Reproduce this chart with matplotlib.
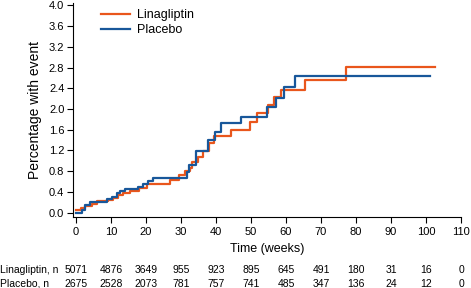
"""
Kaplan-Meier style cumulative incidence: Linagliptin vs Placebo
"""

import matplotlib
matplotlib.use('Agg')
import matplotlib.pyplot as plt
import matplotlib.transforms as mtransforms

plt.rcParams['font.family'] = ['Liberation Sans', 'DejaVu Sans']

# Step curves (week, cumulative % with event)
lina_weeks = [0, 1.5, 2.7, 4.5, 6.0, 9.0, 10.5, 12.0, 13.5, 15.5, 18.0, 20.2,
              26.9, 29.5, 31.1, 32.6, 33.2, 34.9, 36.4, 38.1, 39.5, 44.2,
              49.7, 51.8, 54.9, 56.6, 58.6, 65.4, 77.1, 102.5]
lina_pct = [0.05, 0.08, 0.13, 0.17, 0.22, 0.24, 0.28, 0.34, 0.38, 0.42, 0.48, 0.55,
            0.63, 0.73, 0.80, 0.86, 0.97, 1.08, 1.18, 1.34, 1.47, 1.60,
            1.74, 1.92, 2.08, 2.24, 2.37, 2.56, 2.82, 2.82]

plac_weeks = [0, 1.6, 2.6, 4.0, 8.8, 10.2, 11.6, 12.6, 14.0, 17.8, 19.2, 20.7,
              21.9, 31.6, 32.3, 34.2, 37.8, 39.7, 41.3, 47.0, 54.6, 57.0,
              59.5, 62.5, 101.0]
plac_pct = [0.0, 0.05, 0.15, 0.21, 0.26, 0.31, 0.37, 0.41, 0.45, 0.50, 0.55, 0.60,
            0.66, 0.79, 0.92, 1.18, 1.40, 1.56, 1.73, 1.84, 2.03, 2.21,
            2.42, 2.64, 2.64]

# Numbers at risk
risk_weeks = [0, 10, 20, 30, 40, 50, 60, 70, 80, 90, 100, 110]
lina_at_risk = [5071, 4876, 3649, 955, 923, 895, 645, 491, 180, 31, 16, 0]
plac_at_risk = [2675, 2528, 2073, 781, 757, 741, 485, 347, 136, 24, 12, 0]

y_ticks = [0.0, 0.4, 0.8, 1.2, 1.6, 2.0, 2.4, 2.8, 3.2, 3.6, 4.0]

ORANGE = '#E9561C'
BLUE = '#18579A'

W, H = 471, 288
fig = plt.figure(figsize=(W / 100, H / 100), dpi=100)
ax = fig.add_axes([72.7 / W, 1 - 216.7 / H, (461 - 72.7) / W, (216.7 - 2.9) / H])

ax.step(lina_weeks, lina_pct, where='post', color=ORANGE, lw=1.6, label='Linagliptin')
ax.step(plac_weeks, plac_pct, where='post', color=BLUE, lw=1.6, label='Placebo')

ax.set_xlim(-0.95, 110)
ax.set_ylim(-0.08, 4.05)
ax.set_xticks(risk_weeks)
ax.set_yticks(y_ticks)
ax.set_yticklabels([f'{v:.1f}' for v in y_ticks])
ax.tick_params(labelsize=8, length=4, width=0.8, pad=2)
ax.tick_params(axis='x', pad=3.5)
for side in ('top', 'right'):
    ax.spines[side].set_visible(False)
for side in ('left', 'bottom'):
    ax.spines[side].set_linewidth(0.8)

ax.set_xlabel('Time (weeks)', fontsize=9, labelpad=4)
ax.set_ylabel('Percentage with event', fontsize=10, labelpad=5)

ax.legend(loc='upper left', bbox_to_anchor=(0.06, 0.995), frameon=False,
          fontsize=9, handlelength=2.3, handletextpad=0.6, labelspacing=0.25,
          borderaxespad=0)

# Numbers-at-risk table below the axis
trans = mtransforms.blended_transform_factory(ax.transData, fig.transFigure)
rows = [('Linagliptin, n', lina_at_risk, 270), ('Placebo, n', plac_at_risk, 284)]
for label, counts, ypix in rows:
    yf = 1 - ypix / H
    fig.text(0.0, yf, label, fontsize=7.5, ha='left', va='center')
    for wk, n in zip(risk_weeks, counts):
        ax.text(wk, yf, str(n), transform=trans, fontsize=7.5,
                ha='center', va='center', clip_on=False)

fig.savefig('out.png', dpi=100)
